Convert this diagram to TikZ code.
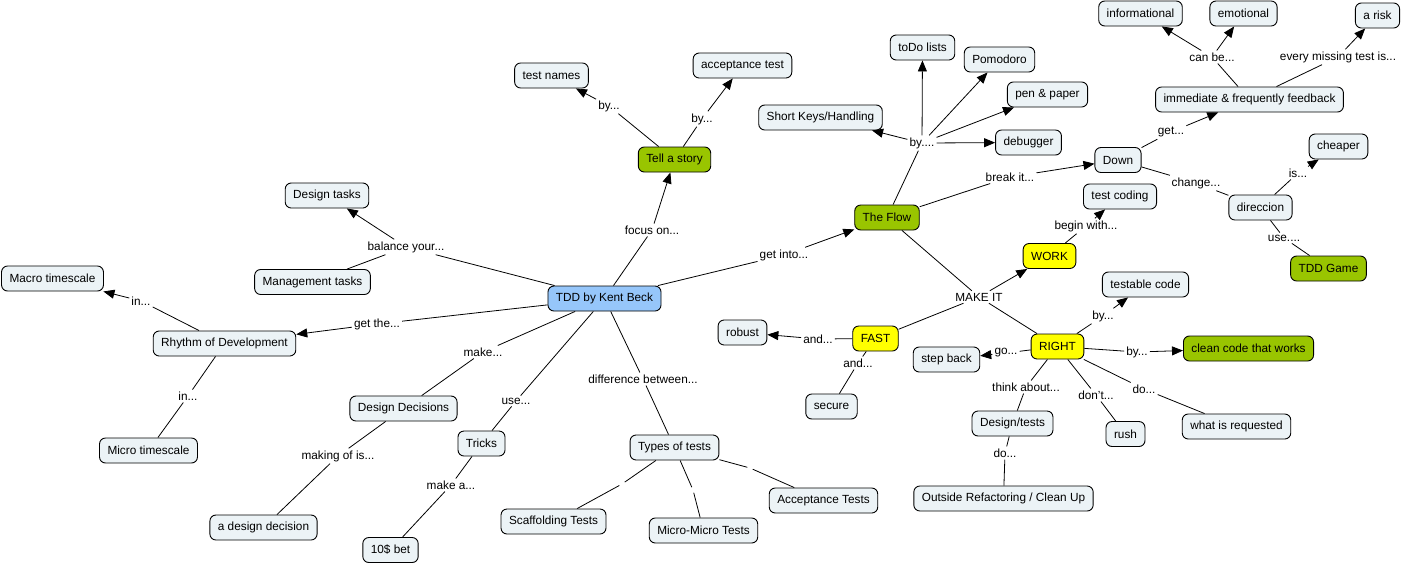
\documentclass[tikz,border=0pt]{standalone}
\usepackage{fontspec}
\setmainfont{Liberation Sans}
\usetikzlibrary{arrows.meta}
\definecolor{conceptfill}{RGB}{236,243,246}
\definecolor{rootfill}{RGB}{150,198,250}
\definecolor{greenfill}{RGB}{153,197,0}
\definecolor{yellowfill}{RGB}{255,255,0}
\newcommand\cmapfont{\fontsize{11.8}{14}\selectfont}
\begin{document}
\begin{tikzpicture}[x=1pt,y=-1pt,
  concept/.style={draw=black, line width=0.9pt, rounded corners=6pt, fill=conceptfill,
    inner xsep=8pt, inner ysep=0pt, minimum height=25pt, font=\cmapfont},
  root/.style={concept, fill=rootfill},
  greenbox/.style={concept, fill=greenfill},
  yellowbox/.style={concept, fill=yellowfill},
  link/.style={inner sep=2pt, font=\cmapfont},
  gap/.style={inner sep=0pt, minimum size=5pt},
  conn/.style={draw, line width=0.8pt},
  arr/.style={conn, -{Triangle[length=11pt,width=9pt]}},
]
\useasboundingbox (0,0) rectangle (1402,566);

% concepts
\node[concept] (macro) at (52.5,278.5) {Macro timescale};
\node[concept] (dtasks) at (327,195.5) {Design tasks};
\node[concept] (mtasks) at (312.5,282) {Management tasks};
\node[concept] (rhythm) at (224.5,343.5) {Rhythm of Development};
\node[root] (tdd) at (604.5,298.5) {TDD by Kent Beck};
\node[concept] (ddec) at (403.5,408.5) {Design Decisions};
\node[concept] (micro) at (148.5,450.5) {Micro timescale};
\node[concept] (adec) at (263.5,527.5) {a design decision};
\node[concept] (tricks) at (481.5,443.5) {Tricks};
\node[concept] (bet) at (390.5,550) {10\$ bet};
\node[concept] (types) at (674.5,447.5) {Types of tests};
\node[concept] (scaff) at (553.5,521.5) {Scaffolding Tests};
\node[concept] (mm) at (703.5,530.5) {Micro-Micro Tests};
\node[concept] (acc) at (823.5,500.5) {Acceptance Tests};
\node[concept] (tnames) at (551.5,75.5) {test names};
\node[concept] (atest) at (742.5,65.5) {acceptance test};
\node[greenbox] (story) at (674.5,159.5) {Tell a story};
\node[concept] (todo) at (922.5,47.5) {toDo lists};
\node[concept] (pomo) at (999.5,59.5) {Pomodoro};
\node[concept] (pen) at (1047.5,94.5) {pen \& paper};
\node[concept] (keys) at (820.5,117.5) {Short Keys/Handling};
\node[concept] (debug) at (1028.5,142.5) {debugger};
\node[greenbox] (flow) at (887,217.5) {The Flow};
\node[concept] (down) at (1118,160) {Down};
\node[concept] (info) at (1140.5,13.5) {informational};
\node[concept] (emo) at (1243.5,13.5) {emotional};
\node[concept] (risk) at (1377.5,15.5) {a risk};
\node[concept] (feed) at (1249.5,99.5) {immediate \& frequently feedback};
\node[concept] (cheap) at (1338.5,146.5) {cheaper};
\node[concept] (dir) at (1260.5,207.5) {direccion};
\node[greenbox] (game) at (1328.5,268.5) {TDD Game};
\node[concept] (tcode) at (1120,196.5) {test coding};
\node[yellowbox] (work) at (1049.5,256) {WORK};
\node[concept] (testable) at (1145.5,284.5) {testable code};
\node[yellowbox] (fast) at (875.5,338.5) {FAST};
\node[concept] (robust) at (742.5,332.5) {robust};
\node[concept] (secure) at (831.5,406.5) {secure};
\node[concept] (stepback) at (946.5,359.5) {step back};
\node[yellowbox] (right) at (1057.5,346.5) {RIGHT};
\node[greenbox] (clean) at (1248.5,348.5) {clean code that works};
\node[concept] (dtests) at (1012.5,423.5) {Design/tests};
\node[concept] (rush) at (1125.5,434) {rush};
\node[concept] (req) at (1236.5,426.5) {what is requested};
\node[concept] (outside) at (1003.5,498.5) {Outside Refactoring / Clean Up};

% linking phrases
\node[link] (l1) at (406,247) {balance your...};
\node[link] (l2) at (141,301) {in...};
\node[link] (l3) at (377,324) {get the...};
\node[link] (l4) at (188,396) {in...};
\node[link] (l5) at (483,352) {make...};
\node[link] (l6) at (338,456) {making of is...};
\node[link] (l7) at (516,401) {use...};
\node[link] (l8) at (451,485) {make a...};
\node[link] (l9) at (643,379) {difference between...};
\node[gap] (g1) at (622,484) {};
\node[gap] (g2) at (693,490) {};
\node[gap] (g3) at (750,468) {};
\node[link] (l10) at (652,230) {focus on...};
\node[link] (l11) at (609,106) {by...};
\node[link] (l12) at (702,119) {by...};
\node[link] (l13) at (784,255) {get into...};
\node[link] (l14) at (922,143) {by....};
\node[link] (l15) at (1010,177) {break it...};
\node[link] (l16) at (1171,132) {get...};
\node[link] (l17) at (1212,57) {can be...};
\node[link] (l18) at (1338,57) {every missing test is...};
\node[link] (l19) at (1196,183) {change...};
\node[link] (l20) at (1298,173) {is...};
\node[link] (l21) at (1284,238) {use....};
\node[link] (l22) at (979,297) {MAKE IT};
\node[link] (l23) at (1086,226) {begin with...};
\node[link] (l24) at (818,339) {and...};
\node[link] (l25) at (858,363) {and...};
\node[link] (l26) at (1103,316) {by...};
\node[link] (l27) at (1006,353) {go...};
\node[link] (l28) at (1137,352) {by...};
\node[link] (l29) at (1026,387) {think about...};
\node[link] (l30) at (1096,395) {don't...};
\node[link] (l31) at (1144,389) {do...};
\node[link] (l32) at (1005,453) {do...};

% connectors
\draw[conn] (tdd) -- (l1); \draw[arr] (l1) -- (dtasks); \draw[conn] (l1) -- (mtasks);
\draw[conn] (rhythm) -- (l2); \draw[arr] (l2) -- (macro);
\draw[conn] (tdd) -- (l3); \draw[arr] (l3) -- (rhythm);
\draw[conn] (rhythm) -- (l4); \draw[conn] (l4) -- (micro);
\draw[conn] (tdd) -- (l5); \draw[conn] (l5) -- (ddec);
\draw[conn] (ddec) -- (l6); \draw[conn] (l6) -- (adec);
\draw[conn] (tdd) -- (l7); \draw[conn] (l7) -- (tricks);
\draw[conn] (tricks) -- (l8); \draw[conn] (l8) -- (bet);
\draw[conn] (tdd) -- (l9); \draw[conn] (l9) -- (types);
\draw[conn] (types) -- (g1); \draw[conn] (g1) -- (scaff);
\draw[conn] (types) -- (g2); \draw[conn] (g2) -- (mm);
\draw[conn] (types) -- (g3); \draw[conn] (g3) -- (acc);
\draw[conn] (tdd) -- (l10); \draw[arr] (l10) -- (story);
\draw[conn] (story) -- (l11); \draw[arr] (l11) -- (tnames);
\draw[conn] (story) -- (l12); \draw[arr] (l12) -- (atest);
\draw[conn] (tdd) -- (l13); \draw[arr] (l13) -- (flow);
\draw[conn] (flow) -- (l14);
\draw[arr] (l14) -- (keys); \draw[arr] (l14) -- (todo); \draw[arr] (l14) -- (pomo);
\draw[arr] (l14) -- (pen); \draw[arr] (l14) -- (debug);
\draw[conn] (flow) -- (l15); \draw[arr] (l15) -- (down);
\draw[conn] (down) -- (l16); \draw[arr] (l16) -- (feed);
\draw[conn] (feed) -- (l17); \draw[arr] (l17) -- (info); \draw[arr] (l17) -- (emo);
\draw[conn] (feed) -- (l18); \draw[arr] (l18) -- (risk);
\draw[conn] (down) -- (l19); \draw[conn] (l19) -- (dir);
\draw[conn] (dir) -- (l20); \draw[arr] (l20) -- (cheap);
\draw[conn] (dir) -- (l21); \draw[conn] (l21) -- (game);
\draw[conn] (flow) -- (l22); \draw[arr] (l22) -- (work);
\draw[conn] (l22) -- (fast); \draw[conn] (l22) -- (right);
\draw[conn] (work) -- (l23); \draw[arr] (l23) -- (tcode);
\draw[conn] (fast) -- (l24); \draw[arr] (l24) -- (robust);
\draw[conn] (fast) -- (l25); \draw[conn] (l25) -- (secure);
\draw[conn] (right) -- (l26); \draw[arr] (l26) -- (testable);
\draw[conn] (right) -- (l27); \draw[arr] (l27) -- (stepback);
\draw[conn] (right) -- (l28); \draw[arr] (l28) -- (clean);
\draw[conn] (right) -- (l29); \draw[conn] (l29) -- (dtests);
\draw[conn] (right) -- (l30); \draw[conn] (l30) -- (rush);
\draw[conn] (right) -- (l31); \draw[conn] (l31) -- (req);
\draw[conn] (dtests) -- (l32); \draw[conn] (l32) -- (outside);
\end{tikzpicture}
\end{document}
